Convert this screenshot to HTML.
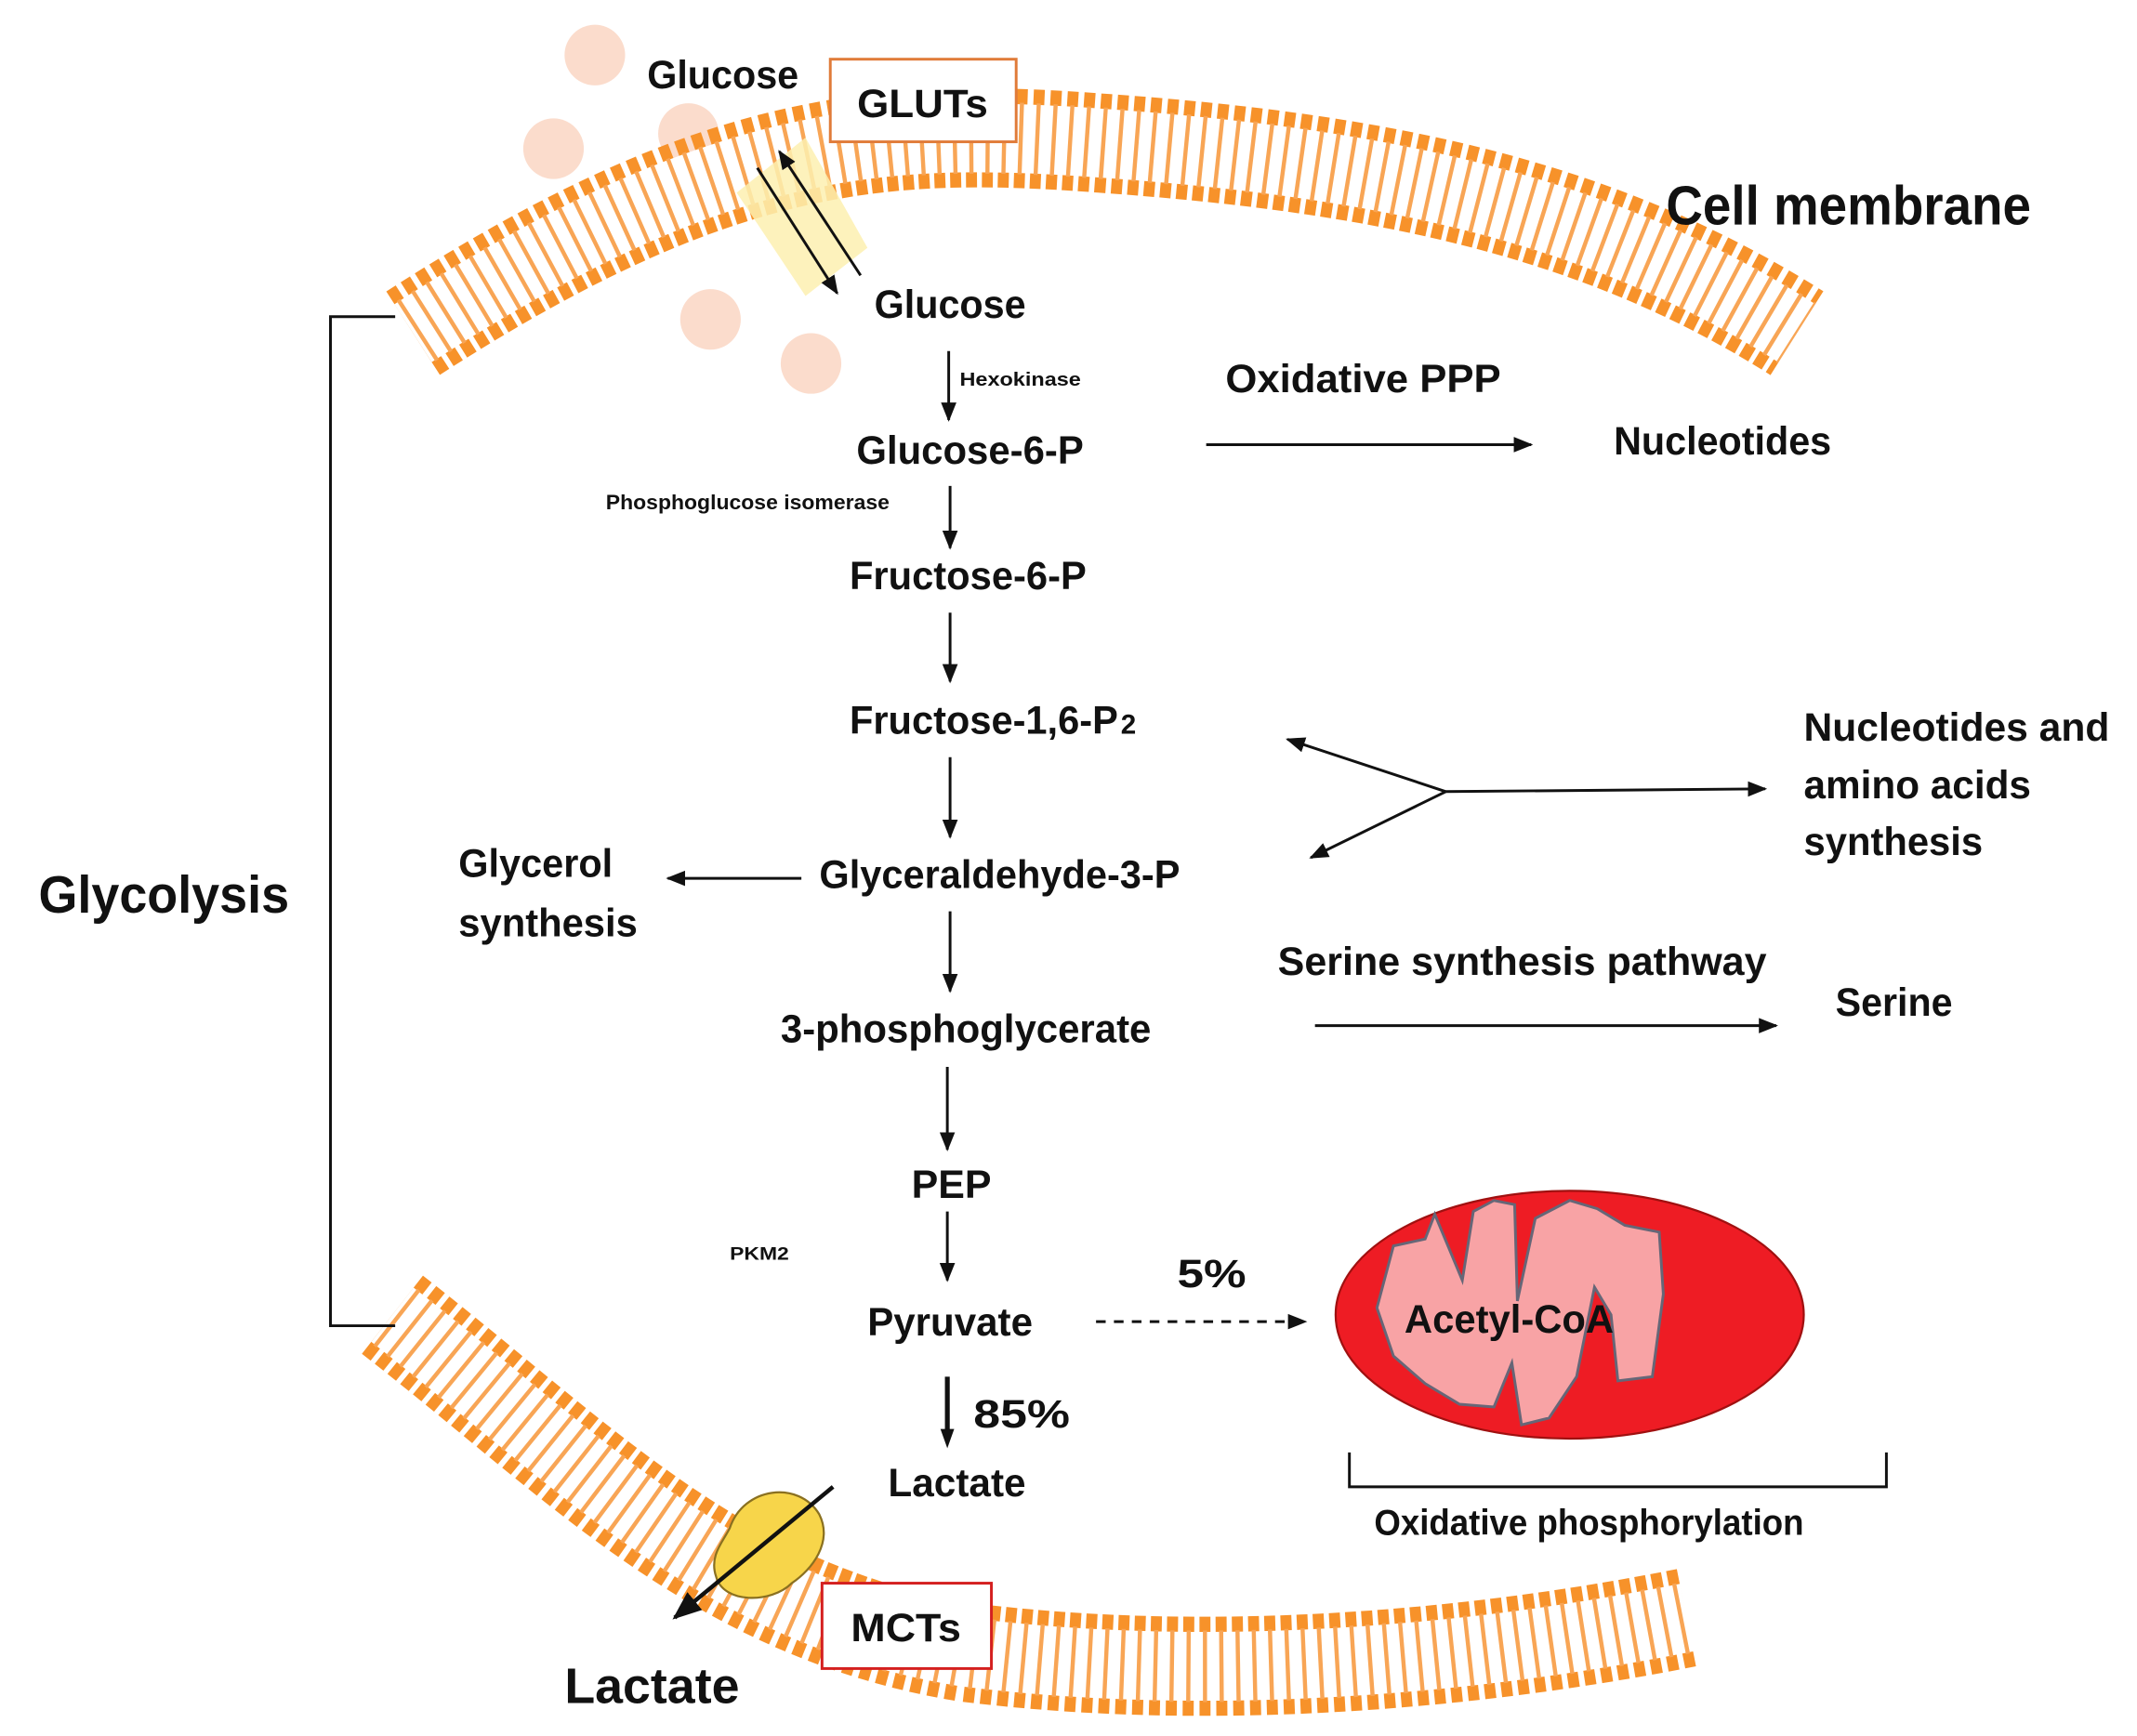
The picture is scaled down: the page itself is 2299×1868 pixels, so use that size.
<!DOCTYPE html>
<html><head><meta charset="utf-8"><style>
html,body{margin:0;padding:0;background:#fff;}
svg{display:block;}
text{font-family:"Liberation Sans",sans-serif;font-weight:bold;fill:#111;}
</style></head><body>
<svg width="2299" height="1868" viewBox="0 0 1552 1261" preserveAspectRatio="none" xmlns="http://www.w3.org/2000/svg">
<defs>
<marker id="ah" viewBox="0 0 10 10" refX="9" refY="5" markerWidth="7" markerHeight="7" orient="auto-start-reverse"><path d="M0,1 L10,5 L0,9 Z" fill="#111"/></marker>
<path id="m1" d="M300,242 C 520,100 640,92 800,104 C 1000,118 1160,150 1305,242"/>
<path id="m2" d="M285,955 C 420,1060 520,1170 700,1200 C 900,1225 1100,1200 1225,1175"/>
</defs>

<g fill="#fbdccc">
<circle cx="432" cy="40" r="22"/><circle cx="402" cy="108" r="22"/><circle cx="500" cy="97" r="22"/>
<circle cx="516" cy="232" r="22"/><circle cx="589" cy="264" r="22"/>
</g>

<g fill="none">
<use href="#m1" stroke="#f7922a" stroke-width="72" stroke-dasharray="8 4"/>
<use href="#m1" stroke="#fff" stroke-width="50"/>
<use href="#m1" stroke="#f8a555" stroke-width="52" stroke-dasharray="3 9" stroke-dashoffset="-2.5"/>
<use href="#m2" stroke="#f7922a" stroke-width="72" stroke-dasharray="8 4"/>
<use href="#m2" stroke="#fff" stroke-width="50"/>
<use href="#m2" stroke="#f8a555" stroke-width="52" stroke-dasharray="3 9" stroke-dashoffset="-2.5"/>
</g>

<path d="M535,140 L585,100 L630,180 L585,215 Z" fill="#fdf0b0" opacity="0.85"/>
<line x1="550" y1="122" x2="608" y2="213" stroke="#111" stroke-width="2" marker-end="url(#ah)"/>
<line x1="625" y1="200" x2="566" y2="110" stroke="#111" stroke-width="2" marker-end="url(#ah)"/>

<g lengthAdjust="spacingAndGlyphs">
<rect x="603" y="43" width="135" height="60" fill="#fff" stroke="#e07b39" stroke-width="2"/>
<text x="670" y="85" font-size="29" text-anchor="middle" textLength="95" lengthAdjust="spacingAndGlyphs">GLUTs</text>
<text x="470" y="64" font-size="29" textLength="110" lengthAdjust="spacingAndGlyphs">Glucose</text>
<text x="1210" y="163" font-size="40" textLength="265" lengthAdjust="spacingAndGlyphs">Cell membrane</text>
<text x="635" y="231" font-size="29" textLength="110" lengthAdjust="spacingAndGlyphs">Glucose</text>
</g>

<path d="M287,230 L240,230 L240,963 L287,963" fill="none" stroke="#111" stroke-width="2"/>
<text x="28" y="663" font-size="38" textLength="182" lengthAdjust="spacingAndGlyphs">Glycolysis</text>

<g stroke="#111" stroke-width="2" fill="none" marker-end="url(#ah)">
<line x1="689" y1="255" x2="689" y2="305"/>
<line x1="690" y1="353" x2="690" y2="398"/>
<line x1="690" y1="445" x2="690" y2="495"/>
<line x1="690" y1="550" x2="690" y2="608"/>
<line x1="690" y1="662" x2="690" y2="720"/>
<line x1="688" y1="775" x2="688" y2="835"/>
<line x1="688" y1="880" x2="688" y2="930"/>
<line x1="876" y1="323" x2="1112" y2="323"/>
<line x1="582" y1="638" x2="485" y2="638"/>
<line x1="1050" y1="575" x2="935" y2="537"/>
<line x1="1050" y1="575" x2="952" y2="623"/>
<line x1="1050" y1="575" x2="1282" y2="573"/>
<line x1="955" y1="745" x2="1290" y2="745"/>
<line x1="796" y1="960" x2="948" y2="960" stroke-dasharray="7 6"/>
</g>
<line x1="688" y1="1000" x2="688" y2="1040" stroke="#111" stroke-width="3.5"/>
<path d="M683,1038 L693,1038 L688,1052 Z" fill="#111"/>

<text x="697" y="280" font-size="14" font-weight="normal" fill="#333" textLength="88" lengthAdjust="spacingAndGlyphs">Hexokinase</text>
<text x="622" y="337" font-size="29" textLength="165" lengthAdjust="spacingAndGlyphs">Glucose-6-P</text>
<text x="890" y="285" font-size="29" textLength="200" lengthAdjust="spacingAndGlyphs">Oxidative PPP</text>
<text x="1172" y="330" font-size="29" textLength="158" lengthAdjust="spacingAndGlyphs">Nucleotides</text>
<text x="440" y="370" font-size="15" font-weight="normal" fill="#333" textLength="206" lengthAdjust="spacingAndGlyphs">Phosphoglucose isomerase</text>
<text x="617" y="428" font-size="29" textLength="172" lengthAdjust="spacingAndGlyphs">Fructose-6-P</text>
<text x="617" y="533" font-size="29" textLength="195" lengthAdjust="spacingAndGlyphs">Fructose-1,6-P</text>
<text x="814" y="533" font-size="20">2</text>
<text x="595" y="645" font-size="29" textLength="262" lengthAdjust="spacingAndGlyphs">Glyceraldehyde-3-P</text>
<text x="1310" y="538" font-size="29" textLength="222" lengthAdjust="spacingAndGlyphs">Nucleotides and</text>
<text x="1310" y="580" font-size="29" textLength="165" lengthAdjust="spacingAndGlyphs">amino acids</text>
<text x="1310" y="621" font-size="29" textLength="130" lengthAdjust="spacingAndGlyphs">synthesis</text>
<text x="333" y="637" font-size="29" textLength="112" lengthAdjust="spacingAndGlyphs">Glycerol</text>
<text x="333" y="680" font-size="29" textLength="130" lengthAdjust="spacingAndGlyphs">synthesis</text>
<text x="567" y="757" font-size="29" textLength="269" lengthAdjust="spacingAndGlyphs">3-phosphoglycerate</text>
<text x="928" y="708" font-size="29" textLength="355" lengthAdjust="spacingAndGlyphs">Serine synthesis  pathway</text>
<text x="1333" y="738" font-size="29" textLength="85" lengthAdjust="spacingAndGlyphs">Serine</text>
<text x="662" y="870" font-size="29" textLength="58" lengthAdjust="spacingAndGlyphs">PEP</text>
<text x="530" y="915" font-size="13" font-weight="normal" fill="#444" textLength="43" lengthAdjust="spacingAndGlyphs">PKM2</text>
<text x="630" y="970" font-size="29" textLength="120" lengthAdjust="spacingAndGlyphs">Pyruvate</text>
<text x="855" y="935" font-size="29" textLength="50" lengthAdjust="spacingAndGlyphs">5%</text>
<text x="707" y="1037" font-size="29" textLength="70" lengthAdjust="spacingAndGlyphs">85%</text>
<text x="645" y="1087" font-size="29" textLength="100" lengthAdjust="spacingAndGlyphs">Lactate</text>

<ellipse cx="1140" cy="955" rx="170" ry="90" fill="#ee1c24" stroke="#a01010" stroke-width="1.5"/>
<polygon points="1000,950 1012,905 1035,900 1042,882 1062,930 1070,880 1085,872 1100,875 1102,945 1115,885 1140,872 1160,878 1180,890 1205,895 1208,940 1200,1000 1175,1003 1170,955 1158,935 1145,1000 1125,1030 1105,1035 1098,990 1085,1022 1060,1020 1035,1005 1012,985" fill="#f8a3a5" stroke="#667" stroke-width="2"/>
<text x="1020" y="968" font-size="29" textLength="152" lengthAdjust="spacingAndGlyphs">Acetyl-CoA</text>
<path d="M980,1055 L980,1080 L1370,1080 L1370,1055" fill="none" stroke="#111" stroke-width="2"/>
<text x="998" y="1115" font-size="26" textLength="312" lengthAdjust="spacingAndGlyphs">Oxidative phosphorylation</text>

<path d="M530,1110 C 540,1080 580,1075 595,1100 C 605,1120 590,1140 575,1150 C 560,1165 525,1165 520,1145 C 515,1130 525,1120 530,1110 Z" fill="#f7d54a" stroke="#8a7020" stroke-width="1.5"/>
<line x1="605" y1="1080" x2="490" y2="1175" stroke="#111" stroke-width="3" marker-end="url(#ah)"/>
<rect x="597" y="1150" width="123" height="62" fill="#fff" stroke="#d42020" stroke-width="2"/>
<text x="658" y="1192" font-size="29" text-anchor="middle" textLength="80" lengthAdjust="spacingAndGlyphs">MCTs</text>
<text x="410" y="1237" font-size="36" textLength="127" lengthAdjust="spacingAndGlyphs">Lactate</text>
</svg>
</body></html>
